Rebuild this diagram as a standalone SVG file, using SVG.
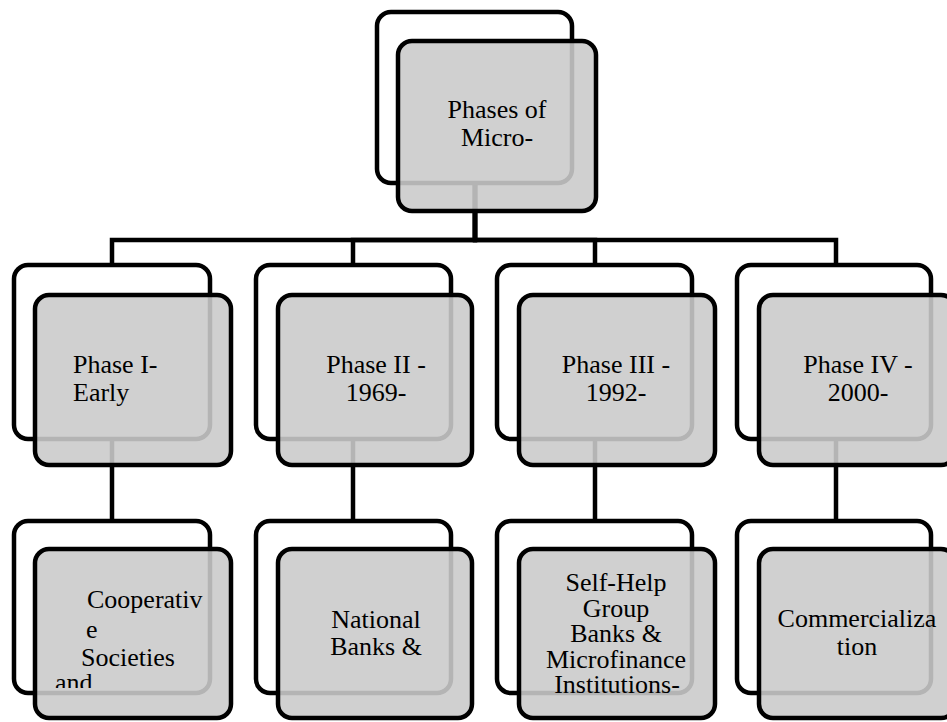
<svg xmlns="http://www.w3.org/2000/svg" width="947" height="722" viewBox="0 0 947 722">
<style>
.back{fill:#ffffff;stroke:#000;stroke-width:4.5}
.front{fill:#cacaca;fill-opacity:0.89;stroke:#000;stroke-width:4.5}
.conn{fill:none;stroke:#000;stroke-width:4.5}
.t{font-family:'Liberation Serif','Times New Roman',serif;font-size:26px;fill:#000}
.c{text-anchor:middle}
</style>
<defs>
<clipPath id="clipCoop"><rect x="35" y="549" width="196" height="139"/></clipPath>
</defs>
<rect x="0" y="0" width="947" height="722" fill="#fff"/>
<g id="connectors">
<path class="conn" d="M475,185 V240 H112 V263"/>
<path class="conn" d="M475,185 V240 H353 V263"/>
<path class="conn" d="M475,185 V240 H595 V263"/>
<path class="conn" d="M475,185 V240 H836 V263"/>
<path class="conn" d="M112,441 V519"/>
<path class="conn" d="M353,441 V519"/>
<path class="conn" d="M595,441 V519"/>
<path class="conn" d="M836,441 V519"/>
</g>
<g id="root">
<rect class="back" x="377" y="12" width="195" height="171" rx="14"/>
<rect class="front" x="398" y="41" width="198" height="170" rx="14"/>
<text class="t c" x="497" y="118">Phases of</text>
<text class="t c" x="497" y="146">Micro-</text>
</g>
<g id="phase1">
<rect class="back" x="14" y="265" width="196" height="174" rx="14"/>
<rect class="front" x="35" y="295" width="196" height="170" rx="14"/>
<text class="t" x="73" y="373">Phase I-</text>
<text class="t" x="73" y="401">Early</text>
</g>
<g id="phase2">
<rect class="back" x="256" y="265" width="195" height="174" rx="14"/>
<rect class="front" x="278" y="295" width="194" height="170" rx="14"/>
<text class="t c" x="376" y="373">Phase II -</text>
<text class="t c" x="376" y="401">1969-</text>
</g>
<g id="phase3">
<rect class="back" x="497" y="265" width="195" height="174" rx="14"/>
<rect class="front" x="519" y="295" width="196" height="170" rx="14"/>
<text class="t c" x="616" y="373">Phase III -</text>
<text class="t c" x="616" y="401">1992-</text>
</g>
<g id="phase4">
<rect class="back" x="737" y="265" width="194" height="174" rx="14"/>
<rect class="front" x="759" y="295" width="196" height="170" rx="14"/>
<text class="t c" x="858" y="373">Phase IV -</text>
<text class="t c" x="858" y="401">2000-</text>
</g>
<g id="child1">
<rect class="back" x="14" y="521" width="196" height="172" rx="14"/>
<rect class="front" x="35" y="549" width="196" height="169" rx="14"/>
<text class="t" x="87" y="608">Cooperativ</text>
<text class="t" x="86" y="638">e</text>
<text class="t" x="81" y="666">Societies</text>
<text class="t" x="55" y="691" clip-path="url(#clipCoop)">and</text>
</g>
<g id="child2">
<rect class="back" x="256" y="521" width="195" height="172" rx="14"/>
<rect class="front" x="278" y="549" width="194" height="169" rx="14"/>
<text class="t c" x="376" y="628">National</text>
<text class="t c" x="376" y="655">Banks &amp;</text>
</g>
<g id="child3">
<rect class="back" x="497" y="521" width="195" height="172" rx="14"/>
<rect class="front" x="519" y="549" width="196" height="169" rx="14"/>
<text class="t c" x="616" y="591">Self-Help</text>
<text class="t c" x="616" y="617">Group</text>
<text class="t c" x="616" y="642">Banks &amp;</text>
<text class="t c" x="616" y="668">Microfinance</text>
<text class="t c" x="617" y="693">Institutions-</text>
</g>
<g id="child4">
<rect class="back" x="737" y="521" width="194" height="172" rx="14"/>
<rect class="front" x="759" y="549" width="196" height="169" rx="14"/>
<text class="t c" x="857" y="627">Commercializa</text>
<text class="t c" x="857" y="655">tion</text>
</g>
</svg>
